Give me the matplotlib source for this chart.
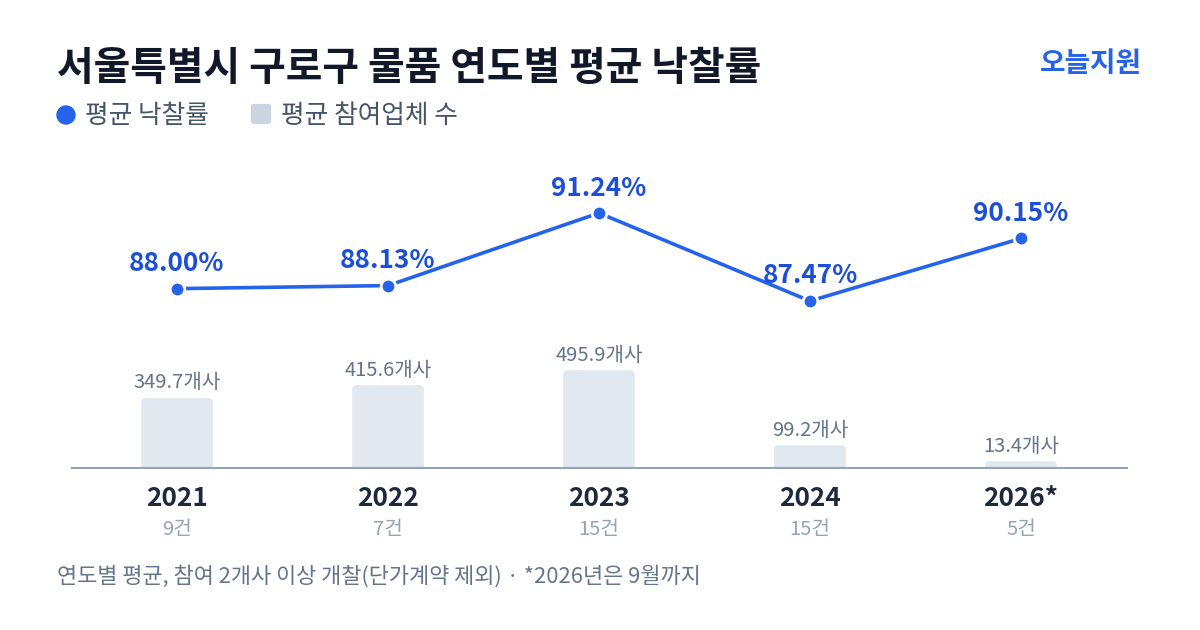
#!/usr/bin/env python3
# -*- coding: UTF-8 -*-
from matplotlib import pyplot as plt
from matplotlib.patches import Ellipse, FancyBboxPatch

plt.rcParams['font.family'] = ['Noto Sans CJK KR', 'DejaVu Sans']

# 데이터
years = ['2021', '2022', '2023', '2024', '2026*']
counts = ['9건', '7건', '15건', '15건', '5건']
rates = [88.00, 88.13, 91.24, 87.47, 90.15]
bidders = [349.7, 415.6, 495.9, 99.2, 13.4]

BLUE = '#2563eb'
BLUE_TXT = '#1d4ed8'
BAR = '#e2e8f0'
DARK = '#111827'


def draw():
    fig = plt.figure(figsize=(12, 6.3), dpi=100)
    W, H = 1200, 630

    # 축 영역: x 72~1127px, y 130~468px
    rect = [71.5 / W, (H - 468) / H, 1055 / W, (468 - 130) / H]
    ax = fig.add_axes(rect)
    x = list(range(len(years)))

    # 막대 (둥근 모서리 효과를 위해 같은 색 테두리 사용)
    ax.bar(x, bidders, width=0.30, color=BAR, edgecolor=BAR,
           linewidth=5.5, joinstyle='round', zorder=1)
    ax.set_xlim(-0.5, 4.5)
    ax.set_ylim(0, 1783)
    for i, v in enumerate(bidders):
        ax.annotate('%.1f개사' % v, (i, v), xytext=(0, 13.5), textcoords='offset points',
                    ha='center', va='center', fontsize=14.5, color='#64748b')

    for s in ['top', 'right', 'left']:
        ax.spines[s].set_visible(False)
    ax.spines['bottom'].set_color('#94a3b8')
    ax.spines['bottom'].set_linewidth(1.5)
    ax.spines['bottom'].set_zorder(5)
    ax.set_yticks([])
    ax.set_xticks(x)
    ax.set_xticklabels([])
    ax.tick_params(axis='x', length=0)

    for i in x:
        ax.annotate(years[i], (i, 0), xytext=(0, -22), textcoords='offset points',
                    ha='center', va='center', fontsize=18.8, fontweight='bold',
                    color='#1e293b')
        ax.annotate(counts[i], (i, 0), xytext=(0, -44), textcoords='offset points',
                    ha='center', va='center', fontsize=14.5, color='#94a3b8')

    # 낙찰률 선
    ax2 = ax.twinx()
    ax2.set_ylim(80.315, 94.796)
    ax2.plot(x, rates, color=BLUE, linewidth=2.6, marker='o', markersize=10.5,
             markerfacecolor=BLUE, markeredgecolor='white', markeredgewidth=2,
             zorder=3, clip_on=False)
    for i, r in enumerate(rates):
        ax2.annotate('%.2f%%' % r, (i, r), xytext=(0, 18), textcoords='offset points',
                     ha='center', va='center', fontsize=18.8, fontweight='bold',
                     color=BLUE_TXT)
    ax2.axis('off')

    # 제목, 범례, 주석
    fig.text(57 / W, 1 - 68 / H, '서울특별시 구로구 물품 연도별 평균 낙찰률',
             fontsize=28.7, fontweight='bold', color=DARK, va='center', ha='left')
    fig.text(1142 / W, 1 - 64 / H, '오늘지원', fontsize=20, fontweight='bold',
             color=BLUE, va='center', ha='right')

    fig.text(85 / W, 1 - 116 / H, '평균 낙찰률', fontsize=18.5, color='#475569',
             va='center', ha='left')
    fig.text(281 / W, 1 - 116 / H, '평균 참여업체 수', fontsize=18.5, color='#475569',
             va='center', ha='left')
    fig.patches.append(Ellipse((66 / W, 1 - 115 / H), 18 / W, 18 / H,
                               transform=fig.transFigure, color=BLUE, figure=fig))
    fig.patches.append(FancyBboxPatch((254 / W, 1 - 121 / H), 14 / W, 14 / H,
                                      boxstyle='round,pad=0.002', mutation_aspect=W / H,
                                      transform=fig.transFigure, color='#cbd5e1',
                                      figure=fig))

    fig.text(57 / W, 1 - 576 / H,
             '연도별 평균, 참여 2개사 이상 개찰(단가계약 제외) · *2026년은 9월까지',
             fontsize=15.8, color='#64748b', va='center', ha='left')

    fig.savefig('out.png', dpi=100, facecolor='white')


if __name__ == '__main__':
    draw()
